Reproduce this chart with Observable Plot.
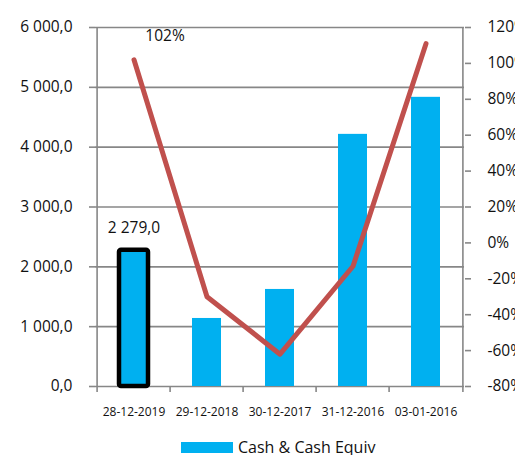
<!DOCTYPE html>
<html>
<head>
<meta charset="utf-8">
<script src="https://cdn.jsdelivr.net/npm/d3@7"></script>
<script src="https://cdn.jsdelivr.net/npm/@observablehq/plot@0.6"></script>
<style>
  html, body { margin: 0; padding: 0; background: #fff; overflow: hidden; }
  #legend { position: relative; height: 19px; font-family: "Open Sans", sans-serif; font-size: 16px; color: #111; }
  #legend .sw { position: absolute; left: 181px; top: 6px; width: 52px; height: 11px; background: #00B0F0; }
  #legend .lb { position: absolute; left: 238px; top: 0px; line-height: 22px; white-space: nowrap; }
</style>
</head>
<body>
<div id="chart"></div>
<div id="legend"><span class="sw"></span><span class="lb">Cash &amp; Cash Equiv</span></div>
<script>
const categories = ["28-12-2019", "29-12-2018", "30-12-2017", "31-12-2016", "03-01-2016"];
const cash = [2279, 1137, 1622, 4214, 4833];
const pctChange = [102, -30, -62, -13, 111];
const leftTicks = [0, 1000, 2000, 3000, 4000, 5000, 6000];
const pctTicks = [-80, -60, -40, -20, 0, 20, 40, 60, 80, 100, 120];

const loc = d3.formatLocale({decimal: ",", thousands: "\u00a0", grouping: [3], currency: ["", ""]});
const fmt = loc.format(",.1f");
// percent axis mapped onto left axis domain [0, 6000] <-> [-80%, 120%]
const toY = p => (p + 80) * 30;
const fromY = v => v / 30 - 80;

const rows = categories.map((c, i) => ({cat: c, cash: cash[i], pct: pctChange[i], py: toY(pctChange[i])}));
const W = 515, ML = 95, MR = 51;
const half = (W - ML - MR) / categories.length / 2;
const grid = "#878787";

const chart = Plot.plot({
  width: W,
  height: 436,
  marginTop: 27,
  marginBottom: 50,
  marginLeft: ML,
  marginRight: MR,
  style: {fontFamily: "'Open Sans', sans-serif", color: "#111", background: "#fff", overflow: "hidden"},
  x: {domain: categories, paddingInner: 0.6, paddingOuter: 0.3, axis: null},
  y: {domain: [0, 6000], axis: null},
  marks: [
    Plot.ruleY(leftTicks, {stroke: grid, strokeWidth: 1.6}),
    Plot.ruleX(categories, {x: d => d, y1: -100, y2: 0, dx: -half, stroke: grid, strokeWidth: 1.6}),
    Plot.ruleX([categories[categories.length - 1]], {x: d => d, y1: -100, y2: 0, dx: half, stroke: grid, strokeWidth: 1.6}),
    Plot.ruleX([categories[0]], {x: d => d, y1: 0, y2: 6000, dx: -half, stroke: grid, strokeWidth: 1.6}),
    Plot.ruleX([categories[categories.length - 1]], {x: d => d, y1: 0, y2: 6000, dx: half, stroke: grid, strokeWidth: 1.6}),
    Plot.barY(rows, {x: "cat", y: "cash", fill: "#00B0F0"}),
    Plot.barY(rows.slice(0, 1), {x: "cat", y: "cash", fill: "none", stroke: "#000", strokeWidth: 4.5, rx: 2}),
    Plot.line(rows, {x: "cat", y: "py", stroke: "#C0504D", strokeWidth: 5, strokeLinecap: "round", strokeLinejoin: "round"}),
    Plot.text(rows.slice(0, 1), {x: "cat", y: "cash", text: d => fmt(d.cash), dy: -22, fontSize: 15.5, fill: "#111"}),
    Plot.text(rows.slice(0, 1), {x: "cat", y: "py", text: d => d.pct + "%", dx: 31, dy: -24, fontSize: 15.5, fill: "#111"}),
    Plot.axisY({ticks: leftTicks, tickFormat: fmt, tickSize: 6, tickPadding: 17, fontSize: 15.5, stroke: grid, strokeWidth: 1.6, fill: "#111", label: null}),
    Plot.axisY({anchor: "right", ticks: pctTicks.map(toY), tickFormat: d => Math.round(fromY(d)) + "%", tickSize: 6, tickPadding: 17, fontSize: 15.5, stroke: grid, strokeWidth: 1.6, fill: "#111", label: null}),
    Plot.axisX({tickSize: 0, tickPadding: 21, fontSize: 12, fill: "#111", label: null})
  ]
});
document.getElementById("chart").appendChild(chart);
</script>
</body>
</html>
